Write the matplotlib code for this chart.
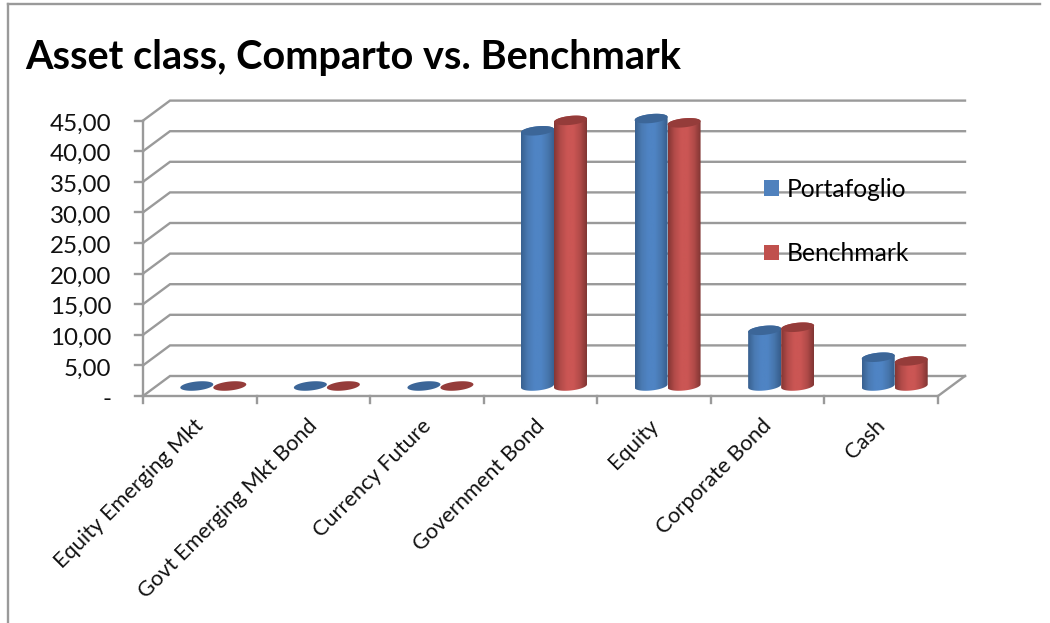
import numpy as np
import matplotlib
matplotlib.use("Agg")
import matplotlib.pyplot as plt
from matplotlib.colors import LinearSegmentedColormap
from matplotlib.patches import Patch, Polygon

plt.rcParams['font.family'] = ['Lato', 'DejaVu Sans']

categories = ["Equity Emerging Mkt", "Govt Emerging Mkt Bond", "Currency Future",
              "Government Bond", "Equity", "Corporate Bond", "Cash"]
portafoglio = [0.0, 0.0, 0.0, 41.7, 43.7, 9.1, 4.7]
benchmark = [0.0, 0.0, 0.0, 43.4, 43.0, 9.6, 4.1]
y_ticks = [0, 5, 10, 15, 20, 25, 30, 35, 40, 45]

W, H = 1050, 623
LEFT, FLOOR = 143, 396       # pixel position of the origin
CAT_PX = (938 - 143) / 7     # pixels per category
VAL_PX = 30.6 / 5            # pixels per value unit
DEPTH_X, DEPTH_Y = 27, 20    # depth of the 3D box, pixels

fig = plt.figure(figsize=(W / 100, H / 100), dpi=100)
ax = fig.add_axes([0, 0, 1, 1])
xlim = (-LEFT / CAT_PX, (W - LEFT) / CAT_PX)
ylim = ((FLOOR - H) / VAL_PX, FLOOR / VAL_PX)
ax.axis("off")

GRID = "#9a9a9a"
LW = 1.7
DX, DY = DEPTH_X / CAT_PX, DEPTH_Y / VAL_PX
n = len(categories)

# outer chart frame
ax.plot([xlim[0] + 8 / CAT_PX] * 2, [ylim[0], (FLOOR - 4) / VAL_PX],
        color=GRID, lw=LW, zorder=1)
ax.plot([xlim[0] + 8 / CAT_PX, xlim[0] + 1040 / CAT_PX], [(FLOOR - 4) / VAL_PX] * 2,
        color=GRID, lw=LW, zorder=1)

# box: back wall gridlines, side wall and floor
for v in y_ticks:
    ax.plot([0, DX, n + DX], [v, v + DY, v + DY], color=GRID, lw=LW, zorder=2,
            solid_joinstyle="miter")
    ax.plot([-8 / CAT_PX, 0], [v, v], color=GRID, lw=LW, zorder=2)
    label = "-" if v == 0 else f"{v:.2f}".replace(".", ",")
    ax.text(-31.5 / CAT_PX, v - 1.5 / VAL_PX, label, ha="right", va="center_baseline",
            fontsize=17.4, color="#111111", zorder=6)
ax.plot([0, 0], [0, y_ticks[-1]], color=GRID, lw=LW, zorder=2)
ax.plot([0, n, n + DX], [0, 0, DY], color=GRID, lw=LW, zorder=2)
for i in range(n + 1):
    ax.plot([i, i], [0, -7 / VAL_PX], color=GRID, lw=LW, zorder=2)
for i, name in enumerate(categories):
    ax.text(i + 0.5 + 1 / CAT_PX, -27 / VAL_PX, name, rotation=45, rotation_mode="anchor",
            ha="right", va="center", fontsize=15.7, color="#111111", zorder=6)

BAR_A, BAR_B, BAR_TILT = 16.5, 4.5, 1.6


def ellipse(cx, v, t):
    """Points of a cylinder end centred on category position cx and value v."""
    return (cx + BAR_A * np.cos(t) / CAT_PX,
            v + (BAR_B * np.sin(t) + BAR_TILT * np.cos(t)) / VAL_PX)


def cylinder(cx, v, cmap, cap, z):
    base_v = DY / 2
    if v > 0:
        xb, yb = ellipse(cx, base_v, np.linspace(np.pi, 2 * np.pi, 40))
        xt, yt = ellipse(cx, base_v + v, np.linspace(0, np.pi, 40))
        outline = np.column_stack([np.r_[xb, xt], np.r_[yb, yt]])
        body = Polygon(outline, closed=True, fc="none", ec="none", zorder=z)
        ax.add_patch(body)
        img = ax.imshow(np.linspace(0, 1, 128)[None, :], cmap=cmap, aspect="auto",
                        extent=[cx - BAR_A / CAT_PX, cx + BAR_A / CAT_PX,
                                base_v - 2, base_v + v + 2], zorder=z)
        img.set_clip_path(body)
    xc, yc = ellipse(cx, base_v + v, np.linspace(0, 2 * np.pi, 80))
    ax.add_patch(Polygon(np.column_stack([xc, yc]), closed=True, fc=cap, ec="none",
                         zorder=z + 0.1))


blue_map = LinearSegmentedColormap.from_list(
    "blue", ["#38608f", "#4a7ab3", "#4f84c4", "#4f84c4", "#4776ad", "#365d8c"])
red_map = LinearSegmentedColormap.from_list(
    "red", ["#843634", "#b34b49", "#cb5654", "#cb5654", "#b04a48", "#803533"])

half = BAR_A / CAT_PX
for i in range(n):
    centre = i + 0.5 + DX / 2
    cylinder(centre - half, portafoglio[i], blue_map, "#3c6698", 3 + i * 0.01)
    cylinder(centre + half, benchmark[i], red_map, "#953c3a", 4 + i * 0.01)

ax.set_xlim(xlim)
ax.set_ylim(ylim)

ax.text(xlim[0] + 25 / CAT_PX, (FLOOR - 58) / VAL_PX, "Asset class, Comparto vs. Benchmark",
        fontsize=28.5, fontweight="bold", color="#000000", ha="left", va="center")

handles = [Patch(fc="#4f81bd", label="Portafoglio"), Patch(fc="#c0504d", label="Benchmark")]
leg = ax.legend(handles=handles, loc="upper left", frameon=False, fontsize=17.7,
                bbox_to_anchor=(754.5 / W, 1 - 168 / H), handlelength=0.61, handleheight=0.61,
                handletextpad=0.32, labelspacing=1.68, borderpad=0.4, borderaxespad=0)
leg.set_zorder(6)

fig.savefig("out.png", dpi=100, facecolor="white")
